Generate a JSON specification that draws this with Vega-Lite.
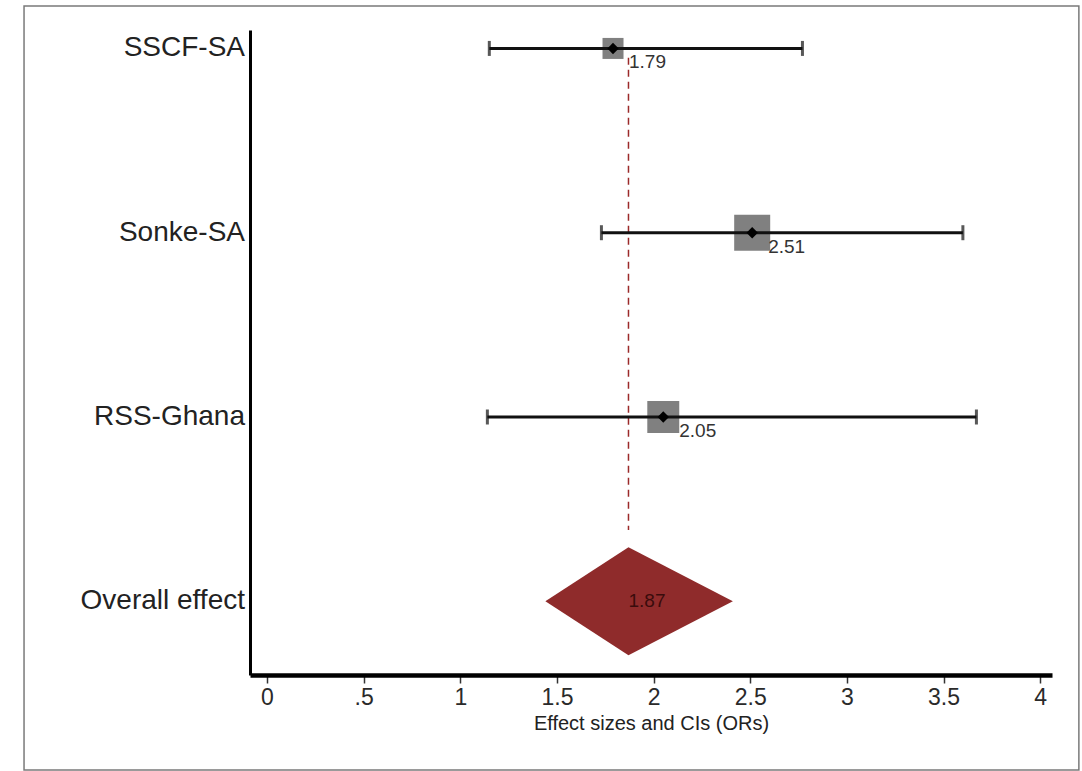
{
  "$schema": "https://vega.github.io/schema/vega-lite/v6.json",
  "width": 802,
  "height": 645,
  "autosize": {"type": "none"},
  "padding": {"left": 250, "top": 30, "right": 30, "bottom": 96},
  "background": "white",
  "config": {"view": {"stroke": null}, "font": "Liberation Sans"},
  "datasets": {
    "studies": [
      {"study": "SSCF-SA", "row": 1, "est": 1.79, "lo": 1.15, "hi": 2.77, "weight": 16},
      {"study": "Sonke-SA", "row": 2, "est": 2.51, "lo": 1.73, "hi": 3.6, "weight": 47},
      {"study": "RSS-Ghana", "row": 3, "est": 2.05, "lo": 1.14, "hi": 3.67, "weight": 37}
    ],
    "overall": [
      {"study": "Overall effect", "row": 4, "est": 1.87, "lo": 1.44, "hi": 2.41}
    ],
    "diamond": [
      {"x": 1.44, "ytop": 4, "ybot": 4},
      {"x": 1.87, "ytop": 3.707, "ybot": 4.293},
      {"x": 2.41, "ytop": 4, "ybot": 4}
    ],
    "labels": [
      {"study": "SSCF-SA", "row": 1},
      {"study": "Sonke-SA", "row": 2},
      {"study": "RSS-Ghana", "row": 3},
      {"study": "Overall effect", "row": 4}
    ]
  },
  "layer": [
    {
      "mark": {"type": "rule", "color": "#444", "strokeWidth": 1},
      "encoding": {
        "x": {"datum": 1, "type": "quantitative", "scale": {"domain": [-0.088, 4.061], "nice": false, "zero": false},
          "axis": {
            "values": [0, 0.5, 1, 1.5, 2, 2.5, 3, 3.5, 4],
            "labelExpr": "datum.value == 0.5 ? '.5' : toString(datum.value)",
            "domainColor": "#000", "domainWidth": 4.5,
            "tickColor": "#333", "tickWidth": 1.5, "tickSize": 8,
            "labelFontSize": 23, "labelColor": "#2a2a2a", "labelPadding": 3, "labelFont": "Liberation Sans",
            "grid": false,
            "title": "Effect sizes and CIs (ORs)", "titleFontSize": 20, "titleFontWeight": "normal",
            "titleColor": "#222", "titlePadding": 4, "titleFont": "Liberation Sans"
          }},
        "y": {"datum": 0.9, "type": "quantitative", "scale": {"domain": [0.9, 4.4], "reverse": true, "nice": false, "zero": false},
          "axis": {"labels": false, "ticks": false, "grid": false, "title": null, "domainColor": "#000", "domainWidth": 3}},
        "y2": {"datum": 4.4}
      }
    },
    {
      "data": {"name": "overall"},
      "mark": {"type": "rule", "color": "#9b2a2a", "strokeWidth": 1.5, "strokeDash": [7, 5]},
      "encoding": {
        "x": {"field": "est", "type": "quantitative"},
        "y": {"datum": 1.05, "type": "quantitative"},
        "y2": {"datum": 3.613}
      }
    },
    {
      "data": {"name": "studies"},
      "mark": {"type": "point", "shape": "square", "filled": true, "color": "#808080", "opacity": 1},
      "encoding": {
        "x": {"field": "est", "type": "quantitative"},
        "y": {"field": "row", "type": "quantitative"},
        "size": {"field": "weight", "type": "quantitative", "scale": {"domain": [0, 50], "range": [0, 1380]}, "legend": null}
      }
    },
    {
      "data": {"name": "studies"},
      "mark": {"type": "rule", "color": "#111", "strokeWidth": 3},
      "encoding": {
        "x": {"field": "lo", "type": "quantitative"},
        "x2": {"field": "hi"},
        "y": {"field": "row", "type": "quantitative"}
      }
    },
    {
      "data": {"name": "studies"},
      "transform": [{"fold": ["lo", "hi"], "as": ["end", "xv"]}],
      "mark": {"type": "tick", "orient": "vertical", "color": "#111", "thickness": 3, "size": 15},
      "encoding": {
        "x": {"field": "xv", "type": "quantitative"},
        "y": {"field": "row", "type": "quantitative"}
      }
    },
    {
      "data": {"name": "studies"},
      "mark": {"type": "point", "shape": "diamond", "filled": true, "color": "#000", "size": 130, "opacity": 1},
      "encoding": {
        "x": {"field": "est", "type": "quantitative"},
        "y": {"field": "row", "type": "quantitative"}
      }
    },
    {
      "data": {"name": "studies"},
      "mark": {"type": "text", "align": "left", "baseline": "top", "dx": 16, "dy": 5, "fontSize": 19, "color": "#333"},
      "encoding": {
        "x": {"field": "est", "type": "quantitative"},
        "y": {"field": "row", "type": "quantitative"},
        "text": {"field": "est", "type": "quantitative", "format": ".2f"}
      }
    },
    {
      "data": {"name": "diamond"},
      "mark": {"type": "area", "color": "#8f2b2b", "opacity": 1, "orient": "vertical"},
      "encoding": {
        "x": {"field": "x", "type": "quantitative"},
        "y": {"field": "ytop", "type": "quantitative"},
        "y2": {"field": "ybot"}
      }
    },
    {
      "data": {"name": "overall"},
      "mark": {"type": "text", "align": "left", "baseline": "middle", "dx": 0, "fontSize": 19, "color": "#3a0c0c"},
      "encoding": {
        "x": {"field": "est", "type": "quantitative"},
        "y": {"field": "row", "type": "quantitative"},
        "text": {"field": "est", "type": "quantitative", "format": ".2f"}
      }
    },
    {
      "data": {"name": "labels"},
      "mark": {"type": "text", "align": "right", "baseline": "middle", "dx": -5, "fontSize": 28, "color": "#222", "clip": false},
      "encoding": {
        "x": {"datum": -0.088, "type": "quantitative"},
        "y": {"field": "row", "type": "quantitative"},
        "text": {"field": "study", "type": "nominal"}
      }
    },
    {
      "data": {"values": [{"frame": "border"}]},
      "mark": {"type": "rect", "fill": "white", "fillOpacity": 0, "stroke": "#7a7a7a", "strokeWidth": 1.5, "clip": false},
      "encoding": {
        "x": {"datum": -1.257, "type": "quantitative"},
        "x2": {"datum": 4.2},
        "y": {"datum": 0.77, "type": "quantitative"},
        "y2": {"datum": 4.915}
      }
    }
  ]
}
